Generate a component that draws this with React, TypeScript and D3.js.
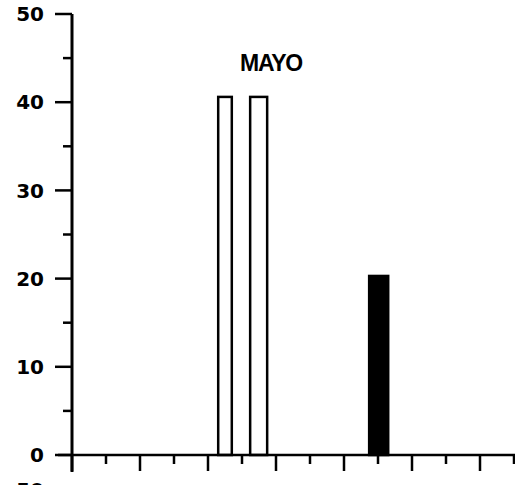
import React, { useEffect, useRef } from "react";
import * as d3 from "d3";

const W = 515;
const H = 485;

const yTicksMajor = [0, 10, 20, 30, 40, 50];
const yTicksMinor = [5, 15, 25, 35, 45];
const xTicksMajor = [0, 1, 2, 3, 4, 5, 6];
const xTicksMinor = [0.5, 1.5, 2.5, 3.5, 4.5, 5.5, 6.5];

const barStarts = [2.15, 2.62, 4.37];
const barEnds = [2.35, 2.87, 4.65];
const barValues = [40.6, 40.6, 20.3];
const barFilled = [false, false, true];
const title = "MAYO";

export default function App() {
  const ref = useRef<SVGSVGElement>(null);
  useEffect(() => {
    const svg = d3.select(ref.current);
    svg.selectAll("*").remove();
    const y = d3.scaleLinear().domain([0, 50]).range([455, 14]);
    const x = d3.scaleLinear().domain([0, 6.5]).range([72, 514]);
    const font = "'Liberation Sans', Arial, sans-serif";
    const numFont = "'DejaVu Sans', sans-serif";
    const g = svg.append("g");

    // bars
    barValues.forEach((v, i) => {
      const x0 = x(barStarts[i]);
      const x1 = x(barEnds[i]);
      g.append("rect")
        .attr("x", x0)
        .attr("y", y(v))
        .attr("width", x1 - x0)
        .attr("height", y(0) - y(v))
        .attr("fill", barFilled[i] ? "#000" : "#fff")
        .attr("stroke", "#000")
        .attr("stroke-width", 2.5);
    });

    // y axis
    g.append("line").attr("x1", x(0)).attr("x2", x(0)).attr("y1", y(50)).attr("y2", y(0) + 17)
      .attr("stroke", "#000").attr("stroke-width", 3);
    yTicksMajor.forEach((t) => {
      g.append("line").attr("x1", x(0) - 17).attr("x2", x(0)).attr("y1", y(t)).attr("y2", y(t))
        .attr("stroke", "#000").attr("stroke-width", 2.5);
      g.append("text").attr("x", 44).attr("y", y(t)).attr("dy", "0.36em")
        .attr("text-anchor", "end").attr("font-family", numFont).attr("font-weight", "bold")
        .attr("font-size", 20).attr("fill", "#000").text(String(t));
    });
    yTicksMinor.forEach((t) => {
      g.append("line").attr("x1", x(0) - 9).attr("x2", x(0)).attr("y1", y(t)).attr("y2", y(t))
        .attr("stroke", "#000").attr("stroke-width", 2.5);
    });

    // x axis
    g.append("line").attr("x1", 58).attr("x2", W).attr("y1", y(0)).attr("y2", y(0))
      .attr("stroke", "#000").attr("stroke-width", 2.5);
    xTicksMajor.forEach((t) => {
      g.append("line").attr("x1", x(t)).attr("x2", x(t)).attr("y1", y(0)).attr("y2", y(0) + 16)
        .attr("stroke", "#000").attr("stroke-width", 2.5);
    });
    xTicksMinor.forEach((t) => {
      g.append("line").attr("x1", x(t)).attr("x2", x(t)).attr("y1", y(0)).attr("y2", y(0) + 9)
        .attr("stroke", "#000").attr("stroke-width", 2.5);
    });

    // title
    g.append("text").attr("x", 271).attr("y", 71).attr("text-anchor", "middle")
      .attr("font-family", font).attr("font-weight", "bold").attr("font-size", 23)
      .attr("letter-spacing", -1.2).attr("fill", "#000").text(title);

    // next panel's label cut off at bottom
    g.append("text").attr("x", 44).attr("y", 497).attr("text-anchor", "end")
      .attr("font-family", numFont).attr("font-weight", "bold").attr("font-size", 20)
      .attr("fill", "#000").text("50");
  }, []);
  return (
    <div style={{ position: "absolute", left: 0, top: 0, width: W, height: H, overflow: "hidden", background: "#fff" }}>
      <svg ref={ref} width={W} height={H} style={{ display: "block" }} />
    </div>
  );
}
